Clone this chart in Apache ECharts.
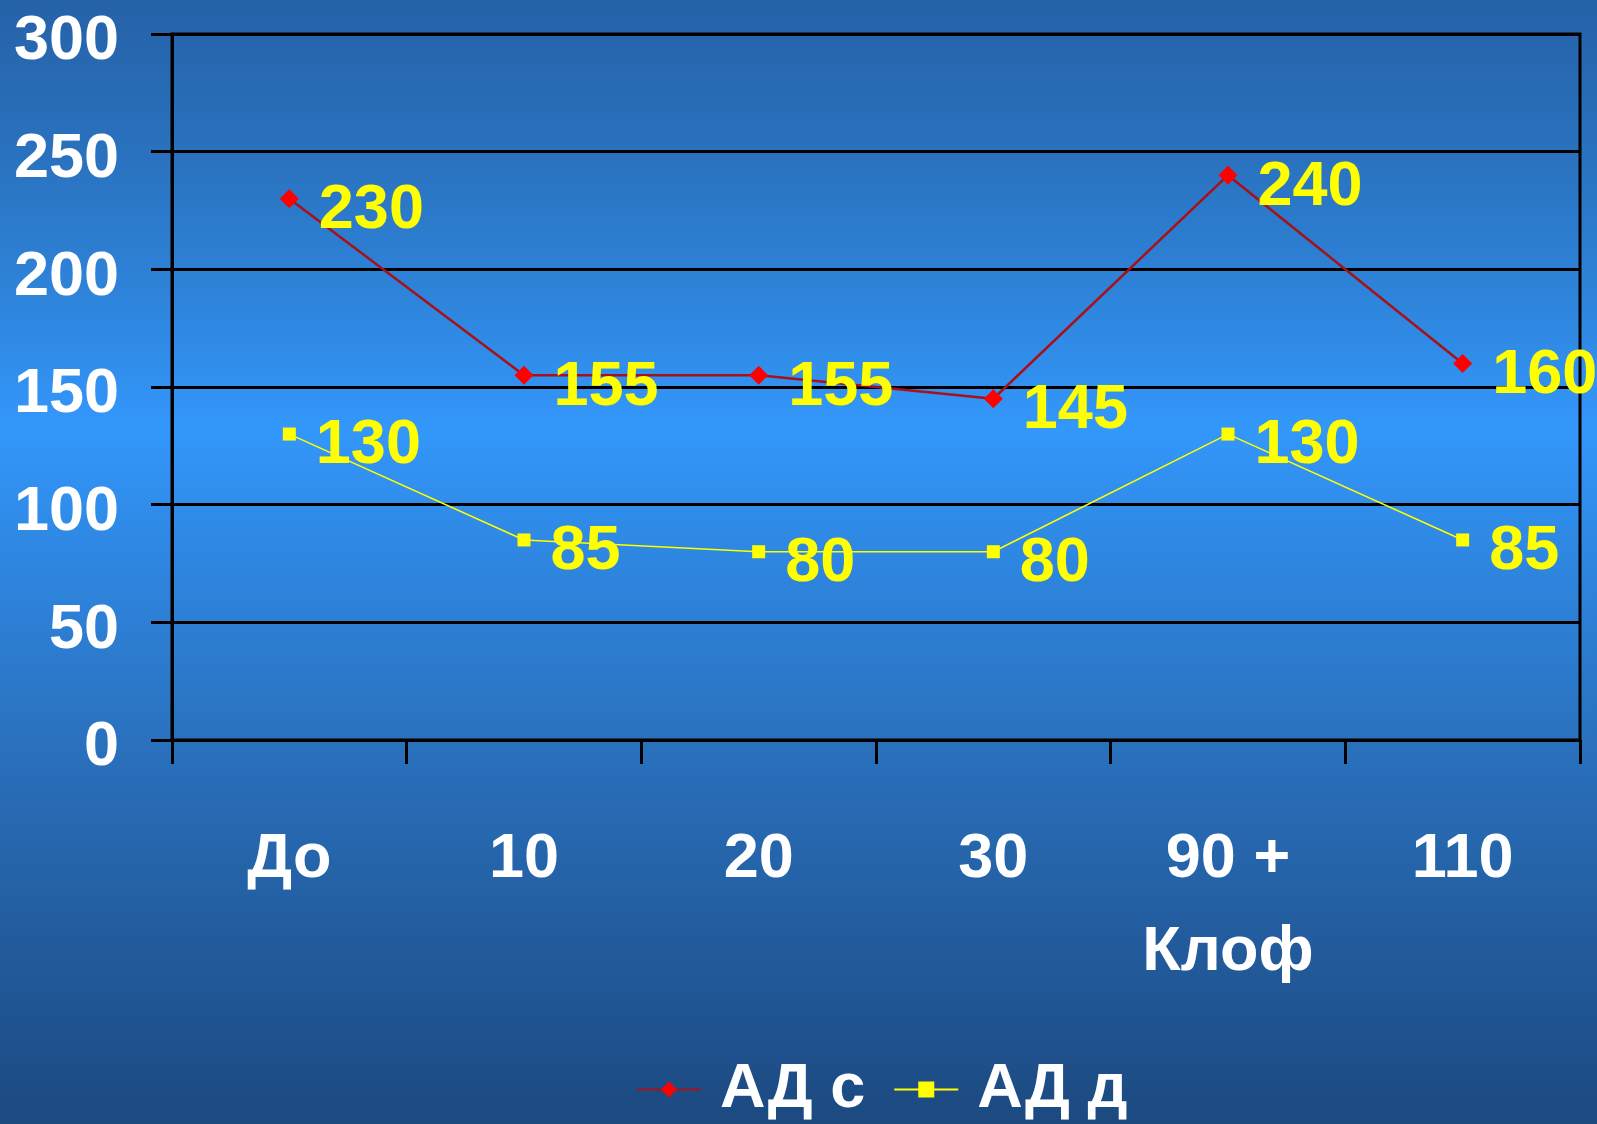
<!DOCTYPE html>
<html>
<head>
<meta charset="utf-8">
<script src="https://cdn.jsdelivr.net/npm/echarts@6/dist/echarts.min.js"></script>
<style>
  html, body { margin: 0; padding: 0; }
  #chart { width: 1597px; height: 1124px; }
</style>
</head>
<body>
<div id="chart"></div>
<script>
// Blood pressure readings over time (systolic / diastolic)
const categories = ['До', '10', '20', '30', '90 +\nКлоф', '110'];
const systolic = [230, 155, 155, 145, 240, 160];
const diastolic = [130, 85, 80, 80, 130, 85];
const seriesNames = ['АД с', 'АД д'];
const yTicks = { min: 0, max: 300, interval: 50 };

const FONT = '"Liberation Sans", Arial, sans-serif';

const chart = echarts.init(document.getElementById('chart'), null, { renderer: 'canvas' });

const labelStyle = {
  show: true,
  position: 'right',
  distance: 20,
  offset: [0, 12],
  color: '#ffff00',
  fontFamily: FONT,
  fontWeight: 'bold',
  fontSize: 63
};

chart.setOption({
  animation: false,
  backgroundColor: {
    type: 'linear', x: 0, y: 0, x2: 0, y2: 1,
    colorStops: [
      { offset: 0.00, color: '#2562a8' },
      { offset: 0.14, color: '#2a72bf' },
      { offset: 0.27, color: '#2e85dc' },
      { offset: 0.38, color: '#3397fb' },
      { offset: 0.50, color: '#2e86e0' },
      { offset: 0.66, color: '#2a71be' },
      { offset: 0.80, color: '#2460a4' },
      { offset: 1.00, color: '#1c4980' }
    ]
  },
  grid: {
    left: 172, right: 17, top: 34, bottom: 384,
    show: true,
    borderColor: '#000',
    borderWidth: 3,
    backgroundColor: 'transparent'
  },
  legend: {
    data: seriesNames,
    left: 636,
    top: 1058,
    padding: 0,
    itemWidth: 64,
    itemHeight: 20,
    itemGap: 28,
    textStyle: {
      color: '#ffffff',
      fontFamily: FONT,
      fontWeight: 'bold',
      fontSize: 63,
      padding: [0, 0, 0, 14]
    }
  },
  xAxis: {
    type: 'category',
    data: categories,
    boundaryGap: true,
    axisLine: { lineStyle: { color: '#000', width: 3 } },
    axisTick: { show: true, length: 24, lineStyle: { color: '#000', width: 3 } },
    axisLabel: {
      color: '#ffffff',
      fontFamily: FONT,
      fontWeight: 'bold',
      fontSize: 63,
      lineHeight: 93,
      margin: 73,
      interval: 0
    },
    splitLine: { show: false }
  },
  yAxis: {
    type: 'value',
    min: yTicks.min,
    max: yTicks.max,
    interval: yTicks.interval,
    axisLine: { show: true, lineStyle: { color: '#000', width: 3 } },
    axisTick: { show: true, length: 21, lineStyle: { color: '#000', width: 3 } },
    axisLabel: {
      margin: 53,
      formatter: '{v|{value}}',
      rich: {
        v: {
          color: '#ffffff',
          fontFamily: FONT,
          fontWeight: 'bold',
          fontSize: 63,
          padding: [16, 0, 0, 0]
        }
      }
    },
    splitLine: { show: true, lineStyle: { color: '#000', width: 3 } }
  },
  series: [
    {
      name: seriesNames[0],
      type: 'line',
      data: systolic,
      symbol: 'diamond',
      symbolSize: 19,
      itemStyle: { color: '#ff0000' },
      lineStyle: { color: '#a8101a', width: 2.5 },
      label: labelStyle,
      z: 3
    },
    {
      name: seriesNames[1],
      type: 'line',
      data: diastolic,
      symbol: 'rect',
      symbolSize: 13,
      itemStyle: { color: '#ffff00' },
      lineStyle: { color: '#ffff00', width: 1.5 },
      label: labelStyle,
      z: 2
    }
  ]
});
</script>
</body>
</html>
